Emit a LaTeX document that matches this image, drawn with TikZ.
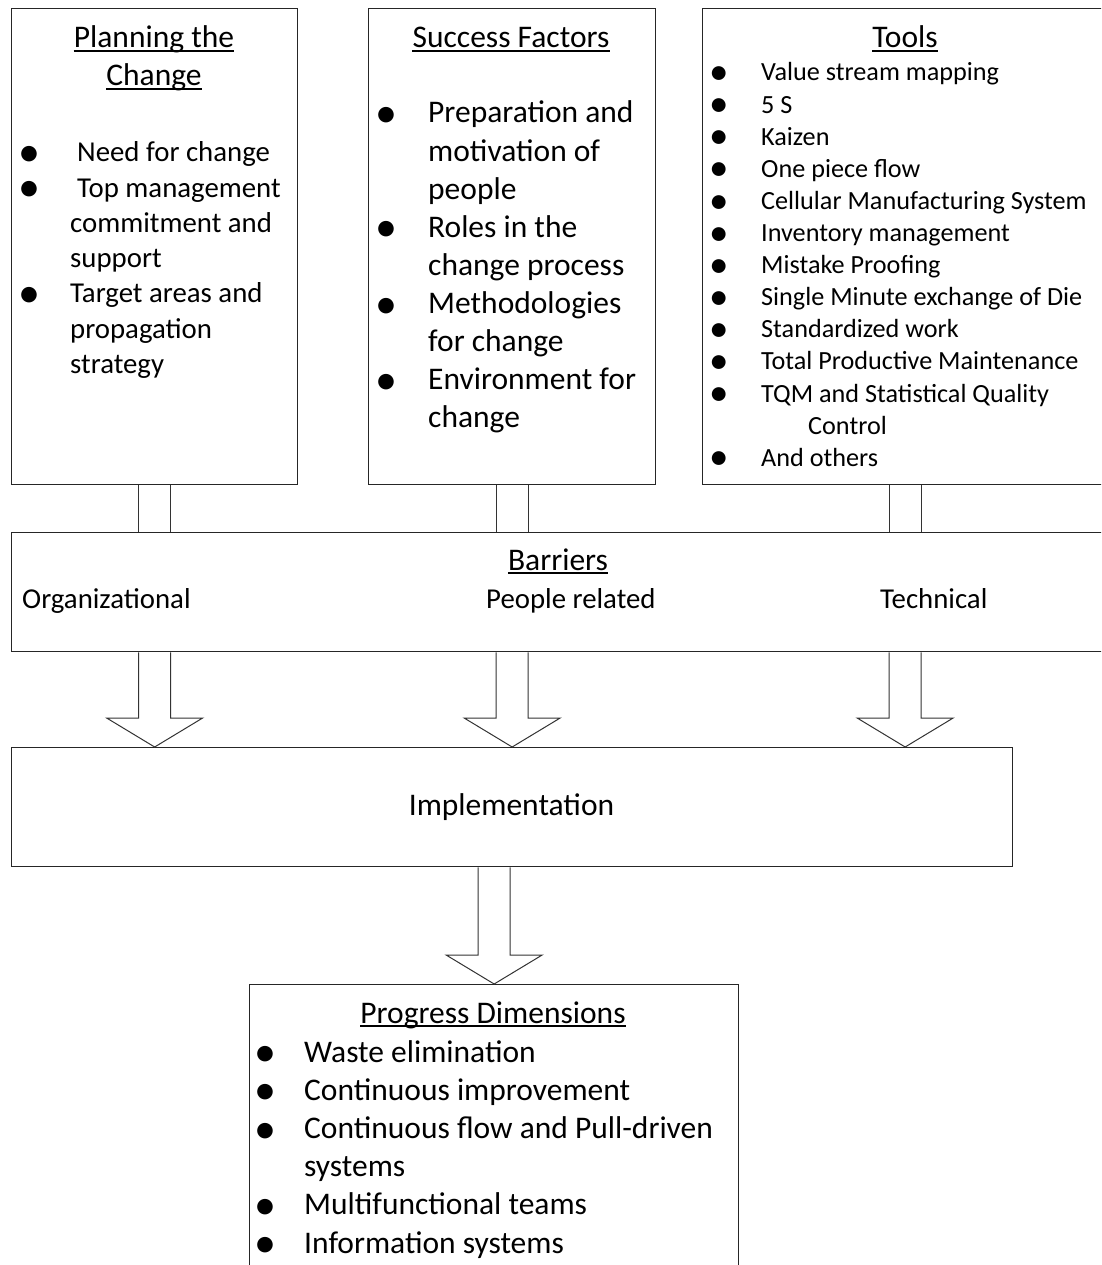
\documentclass[tikz,border=0pt]{standalone}
\usepackage{fontspec}
\setmainfont{Carlito}
\usetikzlibrary{calc}

% text sizes used in the boxes
\newcommand\sizeL{\fontsize{31.5}{38}\selectfont}
\newcommand\sizeM{\fontsize{28.8}{35}\selectfont}
\newcommand\sizeS{\fontsize{26.2}{32}\selectfont}

\tikzset{
  frame/.style={draw=black!85, line width=1.3pt, inner sep=0pt, anchor=north west},
  txt/.style={inner sep=0pt, anchor=base west},
  ttl/.style={inner sep=0pt, anchor=base, font=\sizeL},
  bul/.style={inner sep=0pt, anchor=base, text height=14pt, text depth=0pt,
              font=\fontsize{44}{44}\selectfont, yshift=-4.6pt},
  bulS/.style={inner sep=0pt, anchor=base, text height=12pt, text depth=0pt,
               font=\fontsize{39}{39}\selectfont, yshift=-3.7pt},
  uline/.style={line width=1.6pt},
  link/.style={draw=black!80, line width=1pt},
  blockarr/.style={draw=black!80, line width=1pt, fill=white, line join=miter},
}

% hollow block arrow from the bottom of #2 to the top of #3, centred under #1
\newcommand\flowarrow[3]{%
  \coordinate (S) at (#2.south -| #1);
  \coordinate (T) at (#3.north -| #1);
  \draw[blockarr] ($(S)+(-16,0)$) -- ($(T)+(-16,29)$) -- ($(T)+(-48,29)$) -- (T)
     -- ($(T)+(48,29)$) -- ($(T)+(16,29)$) -- ($(S)+(16,0)$);
}

\begin{document}
\begin{tikzpicture}[x=1pt,y=1pt]
\useasboundingbox (0,0) rectangle (1101,-1265);
\clip (0,0) rectangle (1101,-1265);

% ---------- boxes ----------
\node[frame, minimum width=286, minimum height=476] (plan) at (11,-8) {};
\node[frame, minimum width=287, minimum height=476] (succ) at (368,-8) {};
\node[frame, minimum width=405, minimum height=476] (tool) at (702,-8) {};
\node[frame, minimum width=1100, minimum height=119] (barr) at (11,-532) {};
\node[frame, minimum width=1001, minimum height=119] (impl) at (11,-747) {};
\node[frame, minimum width=489, minimum height=320] (prog) at (249,-984) {};

% ---------- Planning the Change ----------
\node[ttl] (t1) at (154,-48) {Planning the};
\node[ttl] (t1b) at (154,-86) {Change};
\node[bul] (pb1) at (29,-162) {\textbullet};
\node[txt,font=\sizeM] (p1) at (77,-162) {Need for change};
\node[bul] (pb2) at (29,-197.2) {\textbullet};
\node[txt,font=\sizeM] (p2) at (77,-197.2) {Top management};
\node[txt,font=\sizeM] (p3) at (70,-232.4) {commitment and};
\node[txt,font=\sizeM] (p4) at (70,-267.6) {support};
\node[bul] (pb5) at (29,-302.8) {\textbullet};
\node[txt,font=\sizeM] (p5) at (70,-302.8) {Target areas and};
\node[txt,font=\sizeM] (p6) at (70,-338) {propagation};
\node[txt,font=\sizeM] (p7) at (70,-373.2) {strategy};

% ---------- Success Factors ----------
\node[ttl] (t2) at (511,-48) {Success Factors};
\foreach \k in {0,3,5,7}
  \node[bul] (sb\k) at (386,{-123-38.1*\k}) {\textbullet};
\foreach \t [count=\k from 0] in {Preparation and,motivation of,people,Roles in the,change process,Methodologies,for change,Environment for,change}
  \node[txt,font=\sizeL] (s\k) at (428,{-123-38.1*\k}) {\t};

% ---------- Tools ----------
\node[ttl] (t3) at (905,-48) {Tools};
\foreach \t [count=\k from 0] in {Value stream mapping,5 S,Kaizen,One piece flow,Cellular Manufacturing System,Inventory management,Mistake Proofing,Single Minute exchange of Die,Standardized work,Total Productive Maintenance,TQM and Statistical Quality}
  {\node[bulS] (tb\k) at (719,{-81-32.1*\k}) {\textbullet};
   \node[txt,font=\sizeS] (tt\k) at (761,{-81-32.1*\k}) {\t};}
\node[txt,font=\sizeS] (tt11) at (808,{-81-32.1*11}) {Control};
\node[bulS] (tb12) at (719,{-81-32.1*12}) {\textbullet};
\node[txt,font=\sizeS] (tt12) at (761,{-81-32.1*12}) {And others};

% ---------- Barriers ----------
\node[ttl] (t4) at (558,-570) {Barriers};
\node[txt,font=\sizeM] (b1) at (22,-608) {Organizational};
\node[txt,font=\sizeM] (b2) at (486,-608) {People related};
\node[txt,font=\sizeM] (b3) at (880,-608) {Technical};

% ---------- Implementation ----------
\node[ttl] (t5) at (511.5,-815) {Implementation};

% ---------- Progress Dimensions ----------
\node[ttl] (t6) at (493,-1023) {Progress Dimensions};
\foreach \k in {0,1,2,4,5}
  \node[bul] (gb\k) at (265,{-1062-38.2*\k}) {\textbullet};
\foreach \t [count=\k from 0] in {Waste elimination,Continuous improvement,Continuous flow and Pull-driven,systems,Multifunctional teams,Information systems}
  \node[txt,font=\sizeL] (g\k) at (304,{-1062-38.2*\k}) {\t};

% underlined headings
\foreach \n in {t1,t1b,t2,t3,t4,t6}
  \draw[uline] ($(\n.base west)+(0,-3)$) -- ($(\n.base east)+(0,-3)$);

% ---------- open links from the top boxes into Barriers ----------
\foreach \n in {plan,succ,tool} {
  \draw[link] ($(\n.south)+(-16,0)$) -- ($(barr.north -| \n.south)+(-16,0)$);
  \draw[link] ($(\n.south)+(16,0)$) -- ($(barr.north -| \n.south)+(16,0)$);
}

% ---------- block arrows ----------
\flowarrow{plan.south}{barr}{impl}
\flowarrow{succ.south}{barr}{impl}
\flowarrow{tool.south}{barr}{impl}
\flowarrow{prog.north}{impl}{prog}

\end{tikzpicture}
\end{document}
